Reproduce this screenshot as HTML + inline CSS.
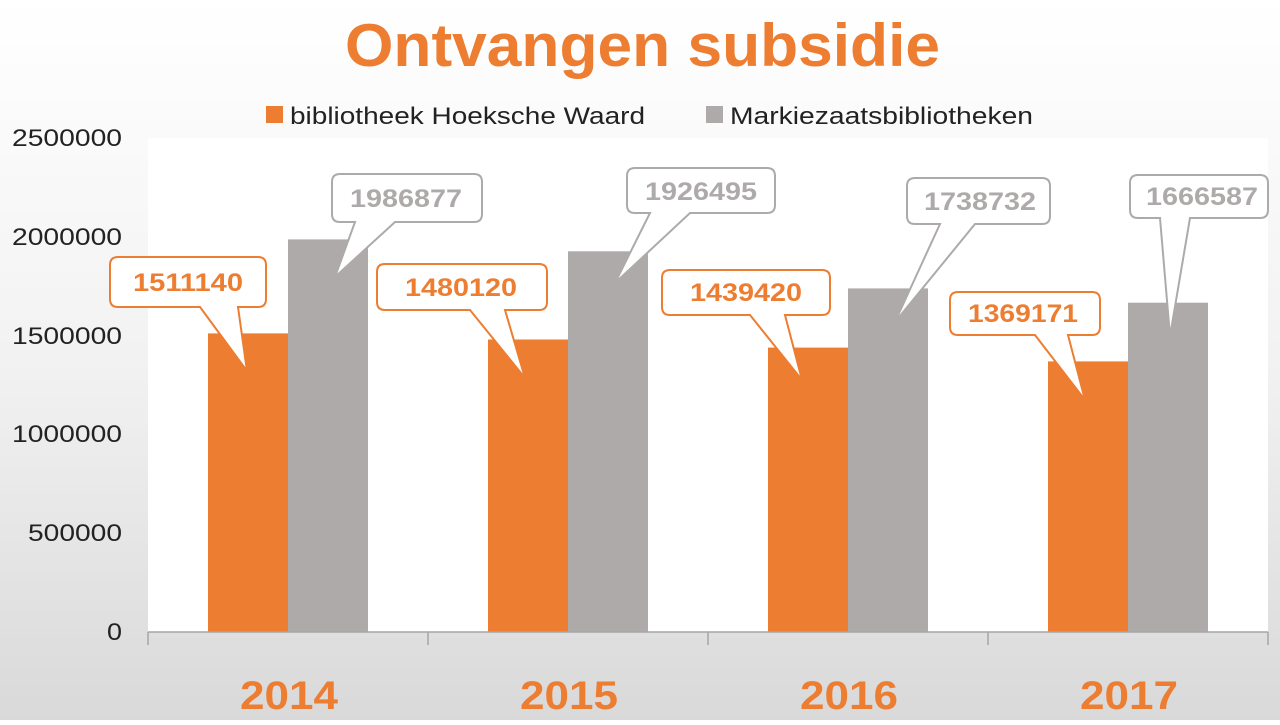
<!DOCTYPE html>
<html><head><meta charset="utf-8"><style>
html,body{margin:0;padding:0;}
body{width:1280px;height:720px;overflow:hidden;background:linear-gradient(#ffffff 0%,#f2f2f2 50%,#d9d9d9 100%);}
</style></head><body>
<svg width="1280" height="720" xmlns="http://www.w3.org/2000/svg" font-family="Liberation Sans, sans-serif">
<text x="345" y="66" textLength="595" lengthAdjust="spacingAndGlyphs" font-size="60" font-weight="bold" fill="#ed7d31">Ontvangen subsidie</text>
<rect x="266" y="106" width="17" height="17" fill="#ed7d31"/>
<text x="290" y="124" textLength="355" lengthAdjust="spacingAndGlyphs" font-size="24" fill="#222">bibliotheek Hoeksche Waard</text>
<rect x="706" y="106" width="17" height="17" fill="#aeaaaa"/>
<text x="730" y="124" textLength="303" lengthAdjust="spacingAndGlyphs" font-size="24" fill="#222">Markiezaatsbibliotheken</text>
<rect x="148" y="138" width="1120" height="494" fill="#fff"/>
<g font-size="24" fill="#222">
<text x="12" y="146" textLength="110" lengthAdjust="spacingAndGlyphs">2500000</text>
<text x="12" y="245" textLength="110" lengthAdjust="spacingAndGlyphs">2000000</text>
<text x="12" y="344" textLength="110" lengthAdjust="spacingAndGlyphs">1500000</text>
<text x="12" y="442" textLength="110" lengthAdjust="spacingAndGlyphs">1000000</text>
<text x="28" y="541" textLength="94" lengthAdjust="spacingAndGlyphs">500000</text>
<text x="107" y="640" textLength="15" lengthAdjust="spacingAndGlyphs">0</text>
</g>
<g fill="#ed7d31">
<rect x="208" y="333.4" width="80" height="298.6"/>
<rect x="488" y="339.5" width="80" height="292.5"/>
<rect x="768" y="347.6" width="80" height="284.4"/>
<rect x="1048" y="361.4" width="80" height="270.6"/>
</g>
<g fill="#aeaaaa">
<rect x="288" y="239.4" width="80" height="392.6"/>
<rect x="568" y="251.3" width="80" height="380.7"/>
<rect x="848" y="288.4" width="80" height="343.6"/>
<rect x="1128" y="302.7" width="80" height="329.3"/>
</g>
<g stroke="#a6a6a6" stroke-width="1.5">
<line x1="148" y1="632" x2="1268" y2="632"/>
<line x1="148" y1="632" x2="148" y2="645"/>
<line x1="428" y1="632" x2="428" y2="645"/>
<line x1="708" y1="632" x2="708" y2="645"/>
<line x1="988" y1="632" x2="988" y2="645"/>
<line x1="1268" y1="632" x2="1268" y2="645"/>
</g>
<g fill="#fff" stroke-width="2">
<path stroke="#ed7d31" d="M118,257 H258 Q266,257 266,265 V299 Q266,307 258,307 H238 L247,371 L200,307 H118 Q110,307 110,299 V265 Q110,257 118,257 Z"/>
<path stroke="#aeaaaa" d="M340,174 H474 Q482,174 482,182 V214 Q482,222 474,222 H395 L335,277 L355,222 H340 Q332,222 332,214 V182 Q332,174 340,174 Z"/>
<path stroke="#ed7d31" d="M385,264 H539 Q547,264 547,272 V302 Q547,310 539,310 H505 L525,378 L470,310 H385 Q377,310 377,302 V272 Q377,264 385,264 Z"/>
<path stroke="#aeaaaa" d="M635,168 H767 Q775,168 775,176 V205 Q775,213 767,213 H690 L615,283 L650,213 H635 Q627,213 627,205 V176 Q627,168 635,168 Z"/>
<path stroke="#ed7d31" d="M670,270 H822 Q830,270 830,278 V307 Q830,315 822,315 H785 L802,380 L750,315 H670 Q662,315 662,307 V278 Q662,270 670,270 Z"/>
<path stroke="#aeaaaa" d="M915,178 H1042 Q1050,178 1050,186 V216 Q1050,224 1042,224 H975 L895,322 L940,224 H915 Q907,224 907,216 V186 Q907,178 915,178 Z"/>
<path stroke="#ed7d31" d="M958,292 H1092 Q1100,292 1100,300 V327 Q1100,335 1092,335 H1068 L1085,400 L1035,335 H958 Q950,335 950,327 V300 Q950,292 958,292 Z"/>
<path stroke="#aeaaaa" d="M1138,175 H1260 Q1268,175 1268,183 V210 Q1268,218 1260,218 H1190 L1170,336 L1160,218 H1138 Q1130,218 1130,210 V183 Q1130,175 1138,175 Z"/>
</g>
<g font-size="25" font-weight="bold">
<text x="133" y="291" textLength="110" lengthAdjust="spacingAndGlyphs" fill="#ed7d31">1511140</text>
<text x="350" y="207" textLength="112" lengthAdjust="spacingAndGlyphs" fill="#aeaaaa">1986877</text>
<text x="405" y="296" textLength="112" lengthAdjust="spacingAndGlyphs" fill="#ed7d31">1480120</text>
<text x="645" y="200" textLength="112" lengthAdjust="spacingAndGlyphs" fill="#aeaaaa">1926495</text>
<text x="690" y="301" textLength="112" lengthAdjust="spacingAndGlyphs" fill="#ed7d31">1439420</text>
<text x="924" y="210" textLength="112" lengthAdjust="spacingAndGlyphs" fill="#aeaaaa">1738732</text>
<text x="968" y="322" textLength="110" lengthAdjust="spacingAndGlyphs" fill="#ed7d31">1369171</text>
<text x="1146" y="205" textLength="112" lengthAdjust="spacingAndGlyphs" fill="#aeaaaa">1666587</text>
</g>
<g font-size="40" font-weight="bold" fill="#ed7d31">
<text x="240" y="709" textLength="98" lengthAdjust="spacingAndGlyphs">2014</text>
<text x="520" y="709" textLength="98" lengthAdjust="spacingAndGlyphs">2015</text>
<text x="800" y="709" textLength="98" lengthAdjust="spacingAndGlyphs">2016</text>
<text x="1080" y="709" textLength="98" lengthAdjust="spacingAndGlyphs">2017</text>
</g>
</svg>
</body></html>
